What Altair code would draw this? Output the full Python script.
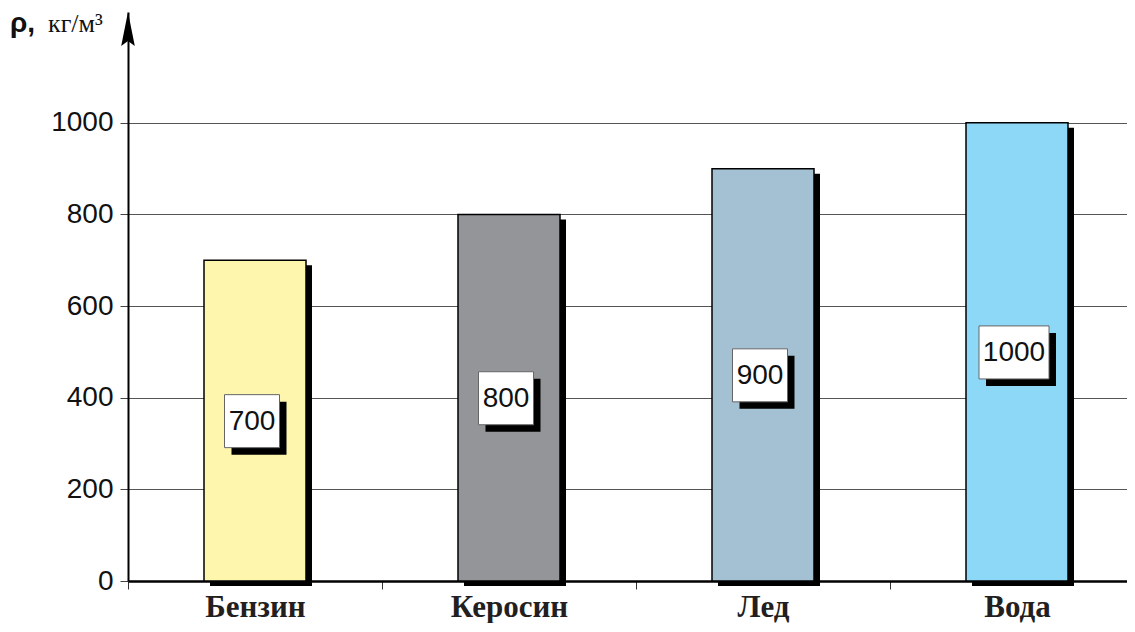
import altair as alt
import pandas as pd

categories = ["Бензин", "Керосин", "Лед", "Вода"]
densities = [700, 800, 900, 1000]
bar_colors = ["#FFF6AD", "#939598", "#A3C1D2", "#8DD8F6"]
y_ticks = [0, 200, 400, 600, 800, 1000]
y_title_symbol = "ρ,"
y_title_unit = "кг/м³"

df = pd.DataFrame({"cat": categories, "value": densities, "color": bar_colors})
df["label"] = df["value"].astype(str)

YTOP = 1242
PLOT_W = 999
PLOT_H = 569

x_enc = alt.X(
    "cat:N",
    sort=categories,
    scale=alt.Scale(range=[0, 1016], paddingInner=0, paddingOuter=0),
    axis=alt.Axis(
        title=None,
        tickBand="extent",
        labelAngle=0,
        labelFont="Liberation Serif",
        labelFontWeight="bold",
        labelFontSize=31,
        labelColor="#231f20",
        labelPadding=3,
        tickColor="#333333",
        tickSize=8,
        tickWidth=1,
        domainColor="#000000",
        domainWidth=2.5,
    ),
)

y_scale = alt.Scale(domain=[0, YTOP], nice=False, zero=True)
y_axis = alt.Axis(
    title=None,
    values=y_ticks,
    format="d",
    grid=True,
    gridColor="#555555",
    gridWidth=1.2,
    tickColor="#444444",
    tickSize=8,
    tickWidth=1,
    domainColor="#000000",
    domainWidth=2,
    labelFont="Liberation Sans",
    labelFontSize=28,
    labelColor="#111111",
    labelPadding=7,
)

base = alt.Chart(df).transform_calculate(
    half="datum.value / 2",
    bw="length(datum.label) > 3 ? 70 : 55",
)

bar_shadow = base.mark_bar(color="#000000", size=102, xOffset=6, yOffset=5, y2Offset=0).encode(
    x=x_enc,
    y=alt.Y("value:Q", scale=y_scale, axis=y_axis),
)

bars = base.mark_bar(size=102, stroke="#000000", strokeWidth=1.5).encode(
    x=x_enc,
    y=alt.Y("value:Q", scale=y_scale, axis=y_axis),
    color=alt.Color("color:N", scale=None),
)

box_shadow = base.mark_bar(color="#000000", xOffset=4, yOffset=-19, y2Offset=34).encode(
    x=x_enc,
    y=alt.Y("half:Q", scale=y_scale),
    y2="half:Q",
    size=alt.Size("bw:Q", scale=None),
)

box = base.mark_bar(color="#ffffff", stroke="#666666", strokeWidth=1, xOffset=-3, yOffset=-26, y2Offset=27).encode(
    x=x_enc,
    y=alt.Y("half:Q", scale=y_scale),
    y2="half:Q",
    size=alt.Size("bw:Q", scale=None),
)

box_text = base.mark_text(
    font="Liberation Sans", fontSize=28, color="#111111", baseline="middle", align="center", xOffset=-3, dy=1
).encode(
    x=x_enc,
    y=alt.Y("half:Q", scale=y_scale),
    text="label:N",
)

arrow = alt.Chart(pd.DataFrame({"top": [YTOP]})).mark_point(
    shape="M0,-1L-0.4,1L0,0.7L0.4,1Z", size=1156, filled=True, color="#000000", opacity=1, yOffset=17
).encode(
    x=alt.value(0),
    y=alt.Y("top:Q", scale=y_scale),
)

title_sym = alt.Chart(pd.DataFrame({"t": [y_title_symbol]})).mark_text(
    font="Liberation Sans", fontWeight="bold", fontSize=28, color="#111111", align="left", baseline="alphabetic"
).encode(x=alt.value(-118), y=alt.value(20), text="t:N")

title_unit = alt.Chart(pd.DataFrame({"t": [y_title_unit]})).mark_text(
    font="Liberation Serif", fontSize=26, color="#111111", align="left", baseline="alphabetic"
).encode(x=alt.value(-80), y=alt.value(20), text="t:N")

chart = alt.layer(
    bar_shadow, bars, box_shadow, box, box_text, arrow, title_sym, title_unit
).properties(
    width=PLOT_W,
    height=PLOT_H,
    padding={"left": 120, "top": 4, "right": 0, "bottom": 42},
    autosize=alt.AutoSizeParams(type="none"),
    background="#ffffff",
).configure_view(stroke=None)

chart.save("out.html", embed_options={"renderer": "svg", "actions": False})
